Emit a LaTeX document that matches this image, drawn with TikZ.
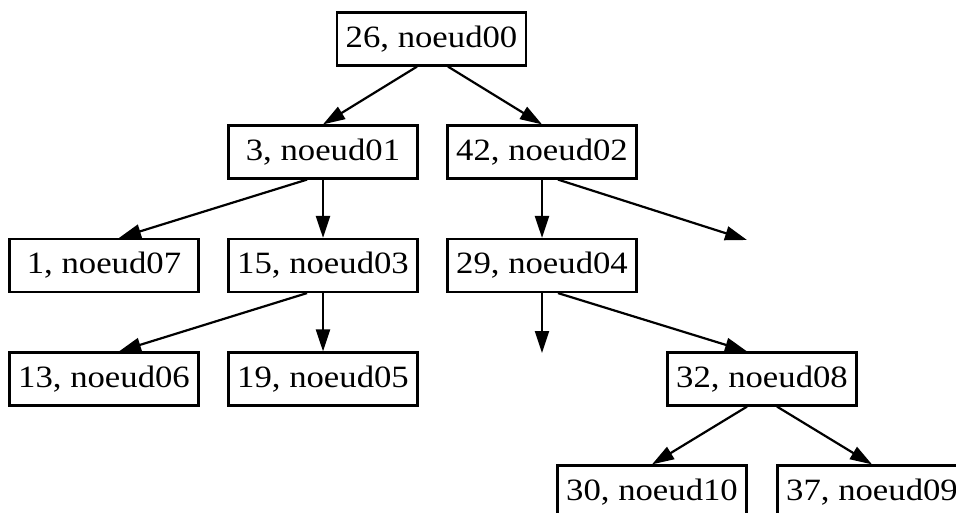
\documentclass[tikz,border=0pt]{standalone}
\usepackage{fontspec}
\setmainfont[FakeStretch=1.12]{Liberation Serif}
\usetikzlibrary{arrows.meta,calc}

\tikzset{
  treenode/.style={draw, line width=2.2pt, rectangle, inner sep=0pt,
    minimum width=189pt, minimum height=53pt,
    font=\fontsize{31}{36}\selectfont},
  treeedge/.style={line width=2.2pt,
    -{Triangle[length=22pt,width=14pt]}}
}

\begin{document}
\begin{tikzpicture}[x=1pt,y=-1pt]
  \clip (0,0) rectangle (956,513);
  \useasboundingbox (0,0) rectangle (956,513);

  % tree nodes
  \node[treenode] (n00) at (431.5,39)  {26, noeud00};
  \node[treenode] (n01) at (323,152)   {3, noeud01};
  \node[treenode] (n02) at (542,152)   {42, noeud02};
  \node[treenode] (n07) at (104,265.5) {1, noeud07};
  \node[treenode] (n03) at (323,265.5) {15, noeud03};
  \node[treenode] (n04) at (542,265.5) {29, noeud04};
  \node[treenode] (n06) at (104,379)   {13, noeud06};
  \node[treenode] (n05) at (323,379)   {19, noeud05};
  \node[treenode] (n08) at (762,379)   {32, noeud08};
  \node[treenode] (n10) at (652,492)   {30, noeud10};
  \node[treenode] (n09) at (872,492)   {37, noeud09};

  % empty children
  \coordinate (nullA) at (747,240);
  \coordinate (nullB) at (542,353);

  % edges
  \draw[treeedge] ([xshift=-14.5pt]n00.south) -- (n01.north);
  \draw[treeedge] ([xshift=16.5pt]n00.south)  -- (n02.north);
  \draw[treeedge] ([xshift=-16pt]n01.south)   -- ([xshift=15pt]n07.north);
  \draw[treeedge] (n01.south) -- (n03.north);
  \draw[treeedge] (n02.south) -- (n04.north);
  \draw[treeedge] ([xshift=16pt]n02.south)    -- (nullA);
  \draw[treeedge] ([xshift=-16pt]n03.south)   -- ([xshift=15pt]n06.north);
  \draw[treeedge] (n03.south) -- (n05.north);
  \draw[treeedge] (n04.south) -- (nullB);
  \draw[treeedge] ([xshift=16pt]n04.south)    -- ([xshift=-15pt]n08.north);
  \draw[treeedge] ([xshift=-15pt]n08.south)   -- (n10.north);
  \draw[treeedge] ([xshift=15pt]n08.south)    -- (n09.north);
\end{tikzpicture}
\end{document}
